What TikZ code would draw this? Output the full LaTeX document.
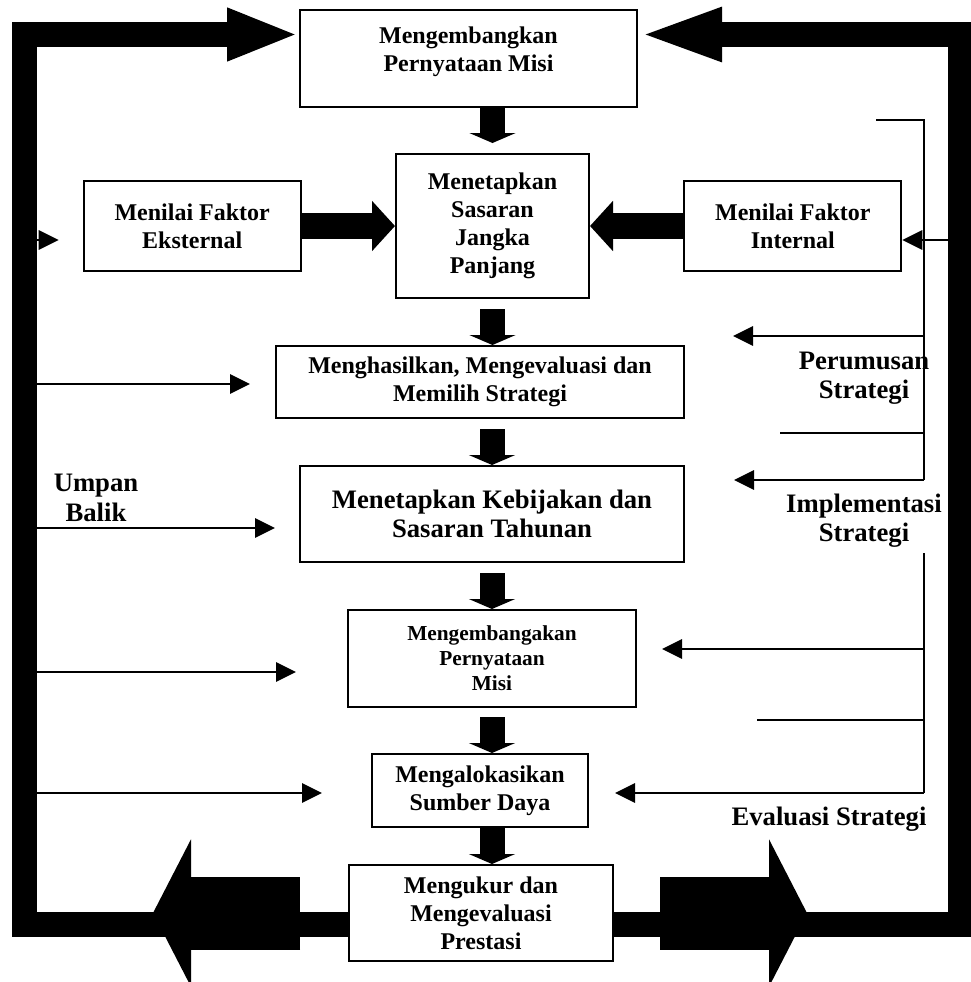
\documentclass[tikz,border=0pt]{standalone}
\usepackage{fontspec}
\setmainfont{Liberation Serif}
\usetikzlibrary{positioning,calc,arrows.meta}

\begin{document}
\begin{tikzpicture}[x=0.75pt,y=-0.75pt,node distance=70pt]
  \tikzstyle{box} = [draw, line width=1.5pt, fill=white, align=center, inner sep=2pt, font=\bfseries\fontsize{18}{21}\selectfont]
  \tikzstyle{tag} = [align=center, font=\bfseries\fontsize{20}{22}\selectfont]
  \tikzstyle{wire} = [line width=1.5pt]
  \tikzstyle{feed} = [wire, -{Triangle[length=15pt,width=14.5pt]}]
  \tikzstyle{flowarrow} = [line width=18.75pt, -{Triangle[length=7.5pt,width=34.5pt]}]
  \tikzstyle{sidearrow} = [line width=19.5pt, -{Triangle[length=17.25pt,width=36.75pt]}]
  \tikzstyle{bigarrow} = [line width=54.75pt, -{Triangle[length=28.5pt,width=109.5pt]}]
  \tikzstyle{loopbar} = [line width=18.75pt]
  \useasboundingbox (0,0) rectangle (971,982);
  \clip (0,0) rectangle (971,982);

  \node[box, minimum width=252.75pt, minimum height=72.75pt, text depth=14.5pt] (box1) at (468.5,58.5) {Mengembangkan\\Pernyataan Misi};
  \node[box, minimum width=144.75pt, minimum height=108pt] (box2) at (492.5,226) {Menetapkan\\Sasaran\\Jangka\\Panjang};
  \node[box, minimum width=162.75pt, minimum height=67.5pt, left=70pt of box2] (box3) {Menilai Faktor\\Eksternal};
  \node[box, minimum width=162.75pt, minimum height=67.5pt, right=70pt of box2] (box4) {Menilai Faktor\\Internal};
  \node[box, minimum width=306pt, minimum height=54pt] (box5) at (480,382) {Menghasilkan, Mengevaluasi dan\\Memilih Strategi};
  \node[box, minimum width=288pt, minimum height=72pt, font=\bfseries\fontsize{20}{21.75}\selectfont] (box6) at (492,514) {Menetapkan Kebijakan dan\\Sasaran Tahunan};
  \node[box, minimum width=216pt, minimum height=72.75pt, font=\bfseries\fontsize{16}{18.75}\selectfont] (box7) at (492,658.5) {Mengembangakan\\Pernyataan\\Misi};
  \node[box, minimum width=162pt, minimum height=54.75pt] (box8) at (480,790.5) {Mengalokasikan\\Sumber Daya};
  \node[box, minimum width=198pt, minimum height=72pt] (box9) at (481,913) {Mengukur dan\\Mengevaluasi\\Prestasi};

  \node[tag] (perumusan) at (864,378) {Perumusan\\Strategi};
  \node[tag] (implementasi) at (864,521) {Implementasi\\Strategi};
  \node[tag] (evaluasi) at (829,819) {Evaluasi Strategi};
  \node[tag] (umpan) at (96,498) {Umpan\\Balik};

  % umpan balik loop
  \coordinate (tl) at (24.5,34.5);
  \coordinate (bl) at (24.5,924.5);
  \coordinate (br) at (960,924.5);
  \coordinate (tr) at (960,34.5);
  \draw[loopbar, -{Triangle[length=54pt,width=36pt]}] (box9.west |- bl) -- (bl) -- (tl) -- (box1.west |- tl);
  \draw[loopbar, -{Triangle[length=63pt,width=36pt]}] (box9.east |- br) -- (br) -- (tr) -- (box1.east |- tr);
  \draw[bigarrow, shorten <=36pt] (box9.west) -- ++(-195,0);
  \draw[bigarrow, shorten <=34.5pt] (box9.east) -- ++(193,0);

  \draw[flowarrow, shorten >=7.5pt] (box2.north |- box1.south) -- (box2.north);
  \draw[flowarrow, shorten <=7.5pt] (box2.south) -- (box2.south |- box5.north);
  \draw[flowarrow, shorten <=7.5pt] (box6.north |- box5.south) -- (box6.north);
  \draw[flowarrow, shorten <=7.5pt] (box6.south) -- (box7.north);
  \draw[flowarrow, shorten <=6.75pt] (box7.south) -- (box7.south |- box8.north);
  \draw[flowarrow] (box7.south |- box8.south) -- (box7.south |- box9.north);
  \draw[sidearrow] (box3.east) -- (box2.west);
  \draw[sidearrow] (box4.west) -- (box2.east);

  \foreach \y/\b/\gap in {240/box3/18pt, 384/box5/18.75pt, 528/box6/18pt, 672/box7/38.25pt, 793/box8/36.75pt}
    \draw[feed, shorten >=\gap] (tl |- 0,\y) -- (\b.west |- 0,\y);

  % perumusan, implementasi, evaluasi
  \coordinate (w1) at (924,120);
  \coordinate (w2) at (924,480);
  \coordinate (w3) at (924,553);
  \coordinate (w4) at (924,793);
  \draw[wire] (w2) -- (w1) -- ++(-48,0);
  \draw[wire] (w1 |- 0,433) -- ++(-144,0);
  \draw[wire] (w3) -- (w4);
  \draw[wire] (w3 |- 0,720) -- ++(-167,0);
  \draw[feed] (tr |- 0,240) -- (box4.east |- 0,240);
  \draw[feed] (w1 |- 0,336) -- ++(-191,0);
  \draw[feed, shorten >=36.75pt] (w2) -- (w2 -| box6.east);
  \draw[feed, shorten >=18.75pt] (w3 |- 0,649) -- (box7.east |- 0,649);
  \draw[feed, shorten >=19.5pt] (w4) -- (w4 -| box8.east);
\end{tikzpicture}
\end{document}
